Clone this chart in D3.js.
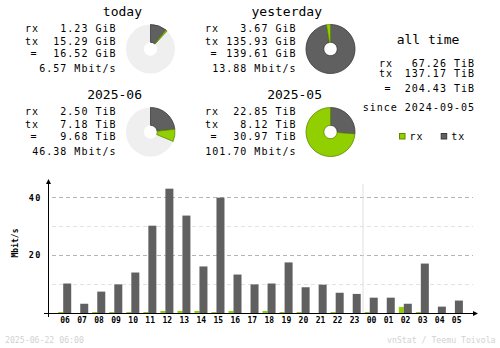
<!DOCTYPE html>
<html>
<head>
<meta charset="utf-8">
<script src="https://cdn.jsdelivr.net/npm/d3@7"></script>
<style>
  html, body { margin: 0; padding: 0; background: #fff; }
  svg { display: block; }
  text { font-family: "DejaVu Sans Mono", "Liberation Mono", monospace; }
</style>
</head>
<body>
<svg id="chart" width="500" height="348"></svg>
<script>
// Summary periods
const periods = ["today", "yesterday", "2025-06", "2025-05"];
const periodRx = [1.23, 3.67, 2.50, 22.85];
const periodTx = [15.29, 135.93, 7.18, 8.12];
const periodTotal = [16.52, 139.61, 9.68, 30.97];
const periodUnit = ["GiB", "GiB", "TiB", "TiB"];
const periodRate = [6.57, 13.88, 46.38, 101.70];

// All time totals
const allTimeRx = 67.26;
const allTimeTx = 137.17;
const allTimeTotal = 204.43;
const allTimeUnit = "TiB";
const allTimeSince = "2024-09-05";

// Hourly average rates, Mbit/s
const hours = ["06","07","08","09","10","11","12","13","14","15","16","17",
               "18","19","20","21","22","23","00","01","02","03","04","05"];
const hourRx = [0.35, 0, 0.35, 0.35, 0.35, 0.35, 0.7, 0.7, 0.7, 0.35, 0.7, 0,
                0.7, 0.35, 0.35, 0, 0.35, 0, 0.35, 0, 2.1, 0.35, 0, 0];
const hourTx = [10.2, 3.2, 7.4, 9.9, 14.0, 30.2, 43.0, 33.7, 16.1, 39.9, 13.3, 9.9,
                10.2, 17.5, 8.9, 9.8, 7.0, 6.6, 5.3, 5.3, 3.2, 17.1, 2.2, 4.3];
const yTicks = [20, 40];
const gridValues = [10, 20, 30, 40];
const footerLeft = "2025-06-22 06:00";
const footerRight = "vnStat / Teemu Toivola";

const RX = "#92cf00", RXD = "#5f8a00", TX = "#606060", TXD = "#3a3a3a";
const ROW_FONT = 10, ROW_SPACING = 1;

const svg = d3.select("#chart");
svg.append("rect").attr("width", 500).attr("height", 348).attr("fill", "#fff");

// small helper for the monospaced body text
function rowText(g, x, y, s, anchor) {
  return g.append("text")
    .attr("x", anchor === "end" ? x + ROW_SPACING : x).attr("y", y)
    .attr("text-anchor", anchor || "start")
    .attr("font-size", ROW_FONT).attr("letter-spacing", ROW_SPACING)
    .text(s);
}

// ---------- summary blocks ----------
const offX = [0, 180, 0, 180], offY = [0, 0, 83, 83];
const fmt = d3.format(".2f");
const arc = d3.arc().innerRadius(6.7).outerRadius(24.5);

periods.forEach((p, i) => {
  const g = svg.append("g").attr("transform", `translate(${offX[i]},${offY[i]})`);
  g.append("text").attr("x", 142).attr("y", 16).attr("text-anchor", "end")
    .attr("font-size", 13).text(p);
  const rows = [
    ["rx", `${fmt(periodRx[i])} ${periodUnit[i]}`, 32.3],
    ["tx", `${fmt(periodTx[i])} ${periodUnit[i]}`, 44.7],
    ["=",  `${fmt(periodTotal[i])} ${periodUnit[i]}`, 57.3]
  ];
  rows.forEach(([lab, val, yy]) => {
    rowText(g, lab === "=" ? 30.5 : 25, yy, lab);
    rowText(g, 115.5, yy, val, "end");
  });
  rowText(g, 115.5, 71.7, `${fmt(periodRate[i])} Mbit/s`, "end");

  // donut: share of the larger period in its pair, split tx then rx
  const pairMax = Math.max(periodTotal[i - (i % 2)], periodTotal[i - (i % 2) + 1]);
  const full = 2 * Math.PI * periodTotal[i] / pairMax;
  const txEnd = full * periodTx[i] / periodTotal[i];
  const pg = g.append("g").attr("transform", "translate(150.5,49)");
  pg.append("path").attr("d", arc({startAngle: 0, endAngle: 2 * Math.PI}))
    .attr("fill", "#efefef");
  pg.append("path").attr("d", arc({startAngle: 0, endAngle: txEnd}))
    .attr("fill", TX).attr("stroke", TXD).attr("stroke-width", 0.8);
  pg.append("path").attr("d", arc({startAngle: txEnd, endAngle: full}))
    .attr("fill", RX).attr("stroke", RXD).attr("stroke-width", 0.8);
});

// ---------- all time block ----------
const at = svg.append("g");
at.append("text").attr("x", 428).attr("y", 44).attr("text-anchor", "middle")
  .attr("font-size", 13).text("all time");
[["rx", allTimeRx, 66.5], ["tx", allTimeTx, 77.2], ["=", allTimeTotal, 91.5]].forEach(([lab, v, yy]) => {
  rowText(at, lab === "=" ? 384.5 : 379, yy, lab);
  rowText(at, 474, yy, `${fmt(v)} ${allTimeUnit}`, "end");
});
rowText(at, 474, 110.5, `since ${allTimeSince}`, "end");

// legend
const legend = [["rx", RX, RXD, 399], ["tx", TX, TXD, 440.7]];
legend.forEach(([lab, c, cd, lx]) => {
  at.append("rect").attr("x", lx + 0.5).attr("y", 133.5).attr("width", 5.5).attr("height", 5.5)
    .attr("fill", c).attr("stroke", cd).attr("stroke-width", 1);
  rowText(at, lx + 10.5, 139.5, lab);
});

// ---------- hourly chart ----------
const x = d3.scaleBand().domain(hours).range([56.5, 465.2]);
const y = d3.scaleLinear().domain([0, 45]).range([313, 182.9]);
const bw = x.bandwidth();
const cx = h => x(h) + bw / 2;

// grid lines
svg.append("g").selectAll("line").data(gridValues).join("line")
  .attr("x1", 52).attr("x2", 473)
  .attr("y1", d => Math.round(y(d)) + 0.5).attr("y2", d => Math.round(y(d)) + 0.5)
  .attr("stroke", d => d % 20 === 0 ? "#b4b4b4" : "#e2e2e2")
  .attr("stroke-dasharray", "4,3");

// day boundary
const dayX = x("00");
svg.append("line").attr("x1", dayX).attr("x2", dayX).attr("y1", 184).attr("y2", 313)
  .attr("stroke", "#e0e0e0");

// bars
svg.append("g").selectAll("rect").data(hours).join("rect")
  .attr("x", h => cx(h) - 6.8).attr("width", 5)
  .attr("y", (h, i) => y(hourRx[i])).attr("height", (h, i) => y(0) - y(hourRx[i]))
  .attr("fill", RX);
svg.append("g").selectAll("rect").data(hours).join("rect")
  .attr("x", h => cx(h) - 1.8).attr("width", 8)
  .attr("y", (h, i) => y(hourTx[i])).attr("height", (h, i) => y(0) - y(hourTx[i]))
  .attr("fill", TX);

// x axis labels
const xAxis = svg.append("g").attr("transform", "translate(0,313)")
  .call(d3.axisBottom(x).tickSize(0).tickPadding(4.5));
xAxis.select(".domain").remove();
xAxis.selectAll("text").attr("font-family", "DejaVu Sans Mono").attr("font-size", 8)
  .attr("font-weight", "bold").attr("fill", "#000");

// y axis labels
const yAxis = svg.append("g").attr("transform", "translate(48,0)")
  .call(d3.axisLeft(y).tickValues(yTicks).tickSize(0).tickPadding(6));
yAxis.select(".domain").remove();
yAxis.selectAll("text").attr("font-family", "DejaVu Sans Mono").attr("font-size", 8.5)
  .attr("font-weight", "bold").attr("letter-spacing", 1.5).attr("fill", "#000");

// axis lines with arrow heads
svg.append("line").attr("x1", 48.5).attr("x2", 48.5).attr("y1", 182).attr("y2", 317)
  .attr("stroke", "#000");
svg.append("path").attr("d", "M48.5,179 L46,184 L51,184 Z").attr("fill", "#000");
svg.append("line").attr("x1", 44).attr("x2", 474).attr("y1", 313.5).attr("y2", 313.5)
  .attr("stroke", "#000");
svg.append("path").attr("d", "M478,313.5 L473,311 L473,316 Z").attr("fill", "#000");

svg.append("text").attr("transform", "translate(17.5,243) rotate(-90)")
  .attr("text-anchor", "middle").attr("font-size", 8).attr("font-weight", "bold")
  .text("Mbit/s");

// footer
svg.append("text").attr("x", 5).attr("y", 342.5).attr("font-size", 8.2)
  .attr("fill", "#d2d2d2").text(footerLeft);
svg.append("text").attr("x", 495.5).attr("y", 342.5).attr("text-anchor", "end")
  .attr("font-size", 8.2).attr("fill", "#d2d2d2").text(footerRight);
</script>
</body>
</html>
